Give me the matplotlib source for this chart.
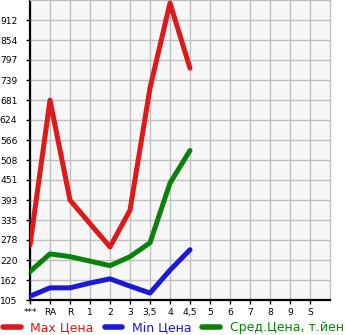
import matplotlib.pyplot as plt
import numpy as np

# --------------------------- chart data --------------------------- #
categories = ["***", "RA", "R", "1", "2", "3", "3,5", "4", "4,5",
              "5", "6", "7", "8", "9", "S"]
max_price = [263, 681, 393, 325, 258, 364, 716, 961, 773]
min_price = [116, 140, 140, 154, 166, 145, 125, 191, 250]
avg_price = [187, 238, 230, 217, 204, 230, 270, 442, 536]
y_ticks = [105, 162, 220, 278, 335, 393, 451, 508, 566, 624, 681, 739, 797, 854, 912]

RED = "#dc1a1a"
BLUE = "#1a1ad6"
GREEN = "#0a820a"

fig = plt.figure(figsize=(3.45, 3.35), dpi=100)
ax = fig.add_axes([30 / 345, 35 / 335, 300 / 345, 300 / 335])
ax.set_facecolor("#f7f7f7")

x = np.arange(len(max_price))
lw = 3.6
ax.plot(x, max_price, color=RED, lw=lw, solid_capstyle="round", solid_joinstyle="round", zorder=3)
ax.plot(x, min_price, color=BLUE, lw=lw, solid_capstyle="round", solid_joinstyle="round", zorder=3)
ax.plot(x, avg_price, color=GREEN, lw=lw, solid_capstyle="round", solid_joinstyle="round", zorder=3)

step = (y_ticks[-1] - y_ticks[0]) / (len(y_ticks) - 1)
ax.set_xlim(0, len(categories))
ax.set_ylim(y_ticks[0], y_ticks[0] + 15 * step)
ax.set_xticks(np.arange(len(categories)))
ax.set_xticklabels(categories)
ax.set_yticks(y_ticks)
ax.set_yticklabels([str(v) for v in y_ticks])

ax.grid(True, color="#c0c0c0", lw=1.0)
ax.set_axisbelow(True)
ax.tick_params(axis="both", labelsize=6.6, length=3, width=1, color="black")
ax.tick_params(axis="y", pad=6)
ax.tick_params(axis="x", pad=3)

for side in ("left", "bottom"):
    ax.spines[side].set_color("black")
    ax.spines[side].set_linewidth(1.6)
for side in ("top", "right"):
    ax.spines[side].set_color("#c0c0c0")
    ax.spines[side].set_linewidth(1.0)

handles = [plt.Line2D([], [], color=c, lw=4.0, solid_capstyle="round") for c in (RED, BLUE, GREEN)]
leg = fig.legend(handles, ["Max Цена", "Min Цена", "Сред.Цена, т.йен"],
                 loc="center left", bbox_to_anchor=(3 / 345, 7 / 335), ncol=3, frameon=False,
                 fontsize=9.0, handlelength=1.4, handletextpad=0.8, columnspacing=0.85,
                 borderaxespad=0.0, borderpad=0.0)
for txt, c in zip(leg.get_texts(), (RED, BLUE, GREEN)):
    txt.set_color(c)

fig.savefig("out.png", dpi=100)
